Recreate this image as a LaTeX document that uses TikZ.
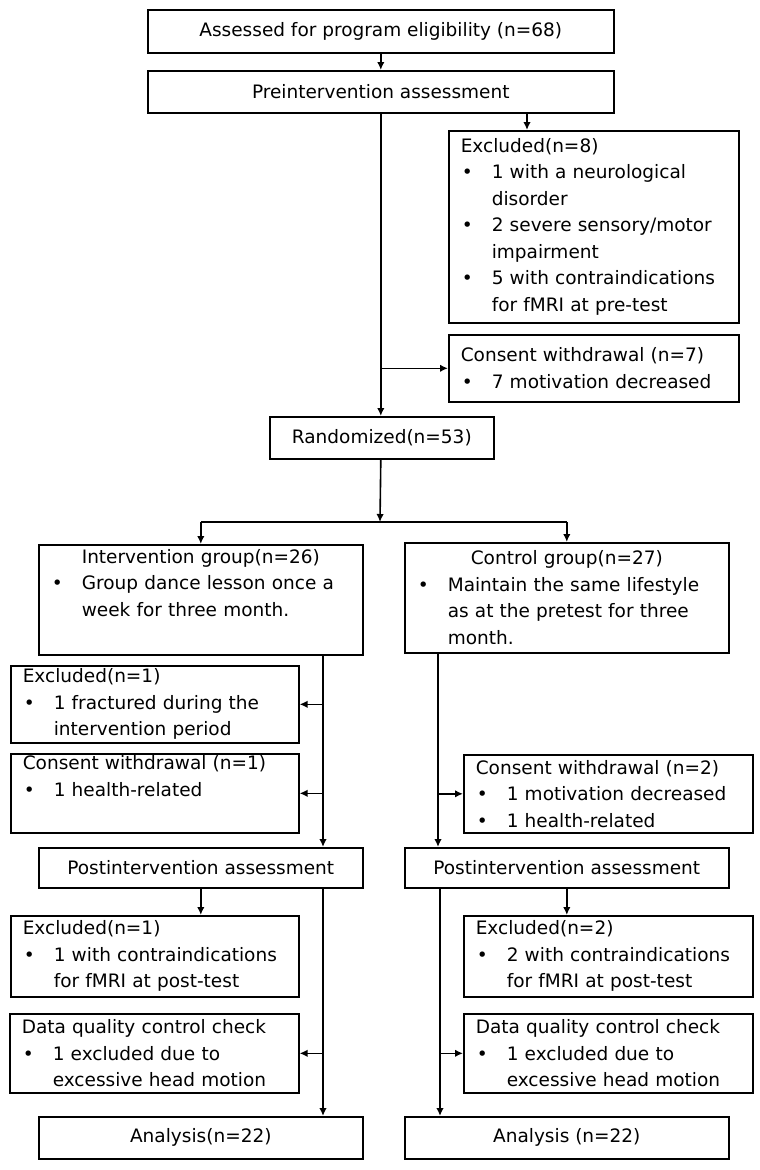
\documentclass[tikz,border=0pt]{standalone}
\usepackage{fontspec}
\setmainfont{DejaVu Sans}
\usepackage{tikz}
\usetikzlibrary{arrows.meta}

% bullet line with hanging indent
\newcommand{\bitem}[1]{\par\hangindent=31pt\hangafter=1\noindent\makebox[31pt][l]{\hspace{1pt}\textbullet}#1\par}

\begin{document}
\begin{tikzpicture}[x=1pt,y=-1pt,
    sbox/.style={draw, line width=1.6pt, anchor=north west, inner sep=0pt, minimum height=42pt, font=\fontsize{18.5}{26.5}\selectfont},
    tbox/.style={draw, line width=1.6pt, anchor=north west, inner xsep=12pt, inner ysep=0pt, text width=266pt, align=left, font=\fontsize{18.5}{26.5}\selectfont},
    arr/.style={line width=1.6pt, -{Latex[length=8pt,width=7.5pt]}},
    link/.style={line width=1.6pt}]
\useasboundingbox (0,0) rectangle (760,1170);

% top part
\node[sbox, minimum width=466pt, minimum height=43pt] (assess) at (147,9) {Assessed for program eligibility (n=68)};
\node[sbox, minimum width=466pt] (pre) at (147,70) {Preintervention assessment};
\node[tbox, minimum height=192pt] (excl8) at (448,130) {Excluded(n=8)
    \bitem{1 with a neurological\hfil\break disorder}
    \bitem{2 severe sensory/motor\hfil\break impairment}
    \bitem{5 with contraindications\hfil\break for fMRI at pre-test}};
\node[tbox, minimum height=67pt] (cons7) at (448,334) {Consent withdrawal (n=7)
    \bitem{7 motivation decreased}};
\node[sbox, minimum width=224pt] (rand) at (269,416) {Randomized(n=53)};
\coordinate (split) at (380,522);

% groups
\node[tbox, text width=300pt, minimum height=110pt] (inter) at (38,544) {\hspace*{31pt}Intervention group(n=26)
    \bitem{Group dance lesson once a\hfil\break week for three month.}\strut};
\node[tbox, text width=300pt, minimum height=110pt] (ctrl) at (404,542) {{\centering Control group(n=27)\par}
    \bitem{Maintain the same lifestyle\hfil\break as at the pretest for three\hfil\break month.}};

% left branch
\node[tbox, text width=264pt, minimum height=77pt] (exc1) at (10,665) {Excluded(n=1)
    \bitem{1 fractured during the\hfil\break intervention period}};
\node[tbox, text width=264pt, minimum height=79pt] (cons1) at (10,753) {Consent withdrawal (n=1)
    \bitem{1 health-related}\strut};
\node[sbox, minimum width=324pt, minimum height=40pt] (postL) at (38,847) {Postintervention assessment};
\node[tbox, text width=264pt, minimum height=81pt] (excPL) at (10,915) {Excluded(n=1)
    \bitem{1 with contraindications\hfil\break for fMRI at post-test}};
\node[tbox, text width=265pt, minimum height=79pt] (dataL) at (9,1013) {Data quality control check
    \bitem{1 excluded due to\hfil\break excessive head motion}};
\node[sbox, minimum width=324pt] (anaL) at (38,1116) {Analysis(n=22)};

% right branch
\node[tbox, text width=265pt, minimum height=78pt] (cons2) at (463,754) {Consent withdrawal (n=2)
    \bitem{1 motivation decreased}
    \bitem{1 health-related}};
\node[sbox, minimum width=324pt, minimum height=40pt] (postR) at (404,847) {Postintervention assessment};
\node[tbox, text width=265pt, minimum height=81pt] (excPR) at (463,915) {Excluded(n=2)
    \bitem{2 with contraindications\hfil\break for fMRI at post-test}};
\node[tbox, text width=265pt, minimum height=79pt] (dataR) at (463,1013) {Data quality control check
    \bitem{1 excluded due to\hfil\break excessive head motion}};
\node[sbox, minimum width=324pt] (anaR) at (404,1116) {Analysis (n=22)};

% connectors
\draw[arr] (assess) -- (pre);
\draw[arr] (pre.south -| 527,0) -- (excl8.north -| 527,0);
\draw[arr] (pre.south) -- (pre.south |- rand.north);
\draw[arr] (pre.south |- cons7.west) -- (cons7.west);
\draw[arr] (pre.south |- rand.south) -- (split);
\draw[link] (split -| inter.north) -- (split -| ctrl.north);
\draw[arr] (split -| inter.north) -- (inter.north);
\draw[arr] (split -| ctrl.north) -- (ctrl.north);

\draw[arr] (inter.south -| 323,0) -- (postL.north -| 323,0);
\draw[arr] (exc1.east -| 323,0) -- (exc1.east);
\draw[arr] (cons1.east -| 323,0) -- (cons1.east);
\draw[arr] (ctrl.south -| 438,0) -- (postR.north -| 438,0);
\draw[arr] (cons2.west -| 438,0) -- (cons2.west);

\draw[arr] (postL.south) -- (postL.south |- excPL.north);
\draw[arr] (postL.south -| 323,0) -- (anaL.north -| 323,0);
\draw[arr] (dataL.east -| 323,0) -- (dataL.east);
\draw[arr] (postR.south) -- (postR.south |- excPR.north);
\draw[arr] (postR.south -| 440,0) -- (anaR.north -| 440,0);
\draw[arr] (dataR.west -| 440,0) -- (dataR.west);
\end{tikzpicture}
\end{document}
